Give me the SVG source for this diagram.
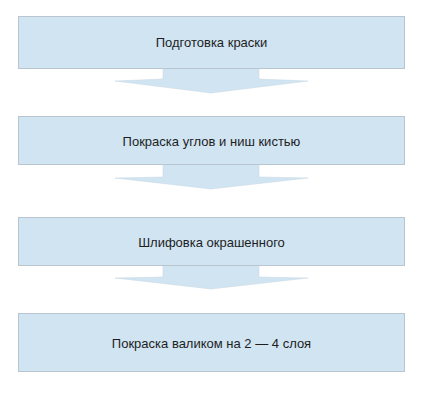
<svg xmlns="http://www.w3.org/2000/svg" width="424" height="405" viewBox="0 0 424 405">
<style>
.box{fill:#d0e4f2;stroke:#b9c6cf;stroke-width:1}
.arr{fill:#d0e4f2;stroke:#c6d6e2;stroke-width:0.5}
.t{font-family:"Liberation Sans",Arial,sans-serif;font-size:13px;fill:#1e1e1e;text-anchor:middle}
</style>
<rect width="424" height="405" fill="#fff"/>
<g id="connectors">
<polygon class="arr" points="163,68 259,68 259,79 308,81 211,93 115,81 163,79"/>
<polygon class="arr" points="163,164 259,164 259,177 308,178 211,189 115,178 163,177"/>
<polygon class="arr" points="163,265 259,265 259,277 308,278 211,289 115,278 163,277"/>
</g>
<g id="n1"><rect class="box" x="18.5" y="16.5" width="386" height="52"/><text class="t" x="211.5" y="46.5">Подготовка краски</text></g>
<g id="n2"><rect class="box" x="18.5" y="116.5" width="386" height="48"/><text class="t" x="211.5" y="145.5">Покраска углов и ниш кистью</text></g>
<g id="n3"><rect class="box" x="18.5" y="217.5" width="386" height="48"/><text class="t" x="211.5" y="246.5">Шлифовка окрашенного</text></g>
<g id="n4"><rect class="box" x="18.5" y="313.5" width="386" height="58"/><text class="t" x="211.5" y="347.5">Покраска валиком на 2 — 4 слоя</text></g>
</svg>
